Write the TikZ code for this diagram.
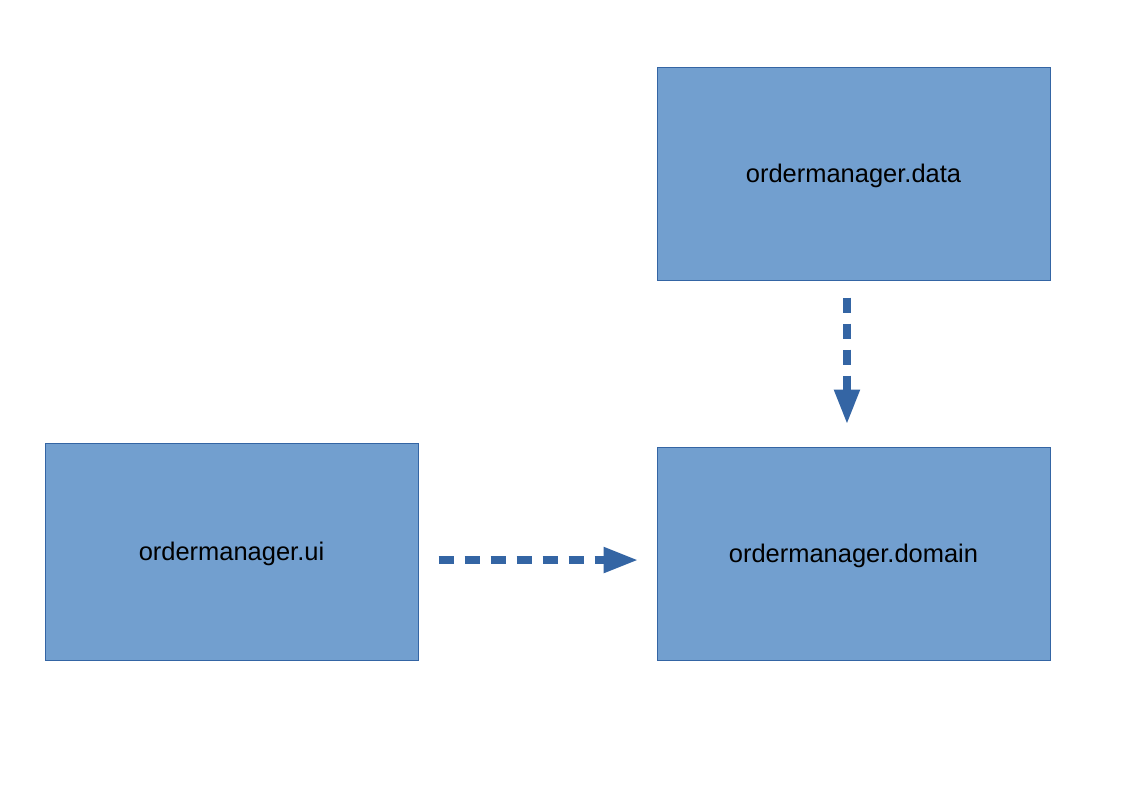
\documentclass[tikz,border=0pt]{standalone}
\usepackage{fontspec}
\setmainfont{Liberation Sans}
\usetikzlibrary{arrows.meta}
\definecolor{boxfill}{HTML}{729FCF}
\definecolor{boxline}{HTML}{3465A4}
\begin{document}
\begin{tikzpicture}[x=0.75pt,y=-0.75pt,
  pkg/.style={draw=boxline,line width=0.75pt,fill=boxfill,inner sep=0pt,
    text depth=0pt,font=\fontsize{19.1}{23}\selectfont,text=black},
  dep/.style={draw=boxline,line width=6pt,dash pattern=on 11.25pt off 8.25pt,
    -{Triangle[length=26.25pt,width=18pt]}}]
\useasboundingbox[fill=white] (0,0) rectangle (1123,794);
\node[pkg,minimum width=393*0.75pt,minimum height=213*0.75pt] (data) at (853.5,173.5) {ordermanager.data};
\node[pkg,minimum width=393*0.75pt,minimum height=213*0.75pt] (domain) at (853.5,553.5) {ordermanager.domain};
\node[pkg,minimum width=373*0.75pt,minimum height=217*0.75pt] (ui) at (231.5,551.5) {ordermanager.ui};
\draw[dep,shorten <=15pt,shorten >=13.5pt] ([yshift=-6.4pt]ui.east) -- ([yshift=-6.4pt]ui.east -| domain.west);
\draw[dep,shorten <=12.75pt,shorten >=16.5pt] ([xshift=-4.9pt]data.south) -- ([xshift=-4.9pt]data.south |- domain.north);
\end{tikzpicture}
\end{document}
